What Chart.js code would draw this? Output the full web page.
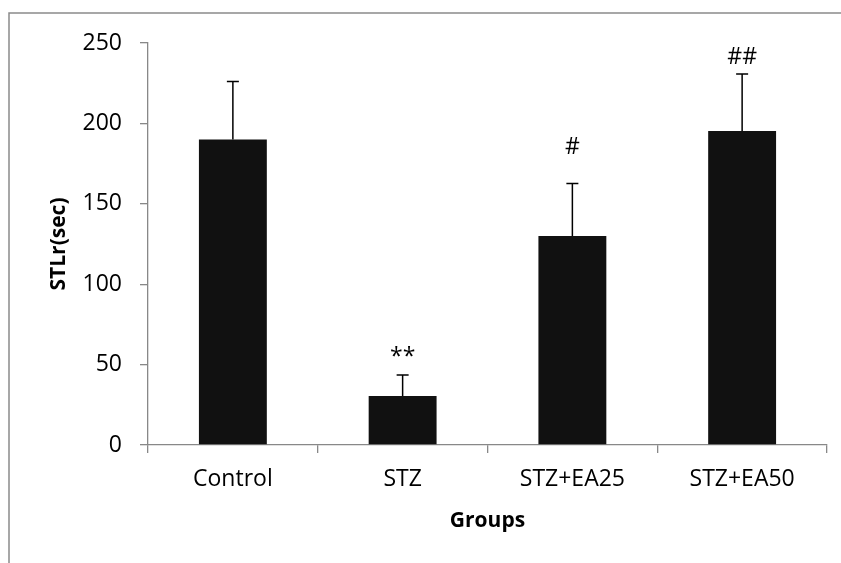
<!DOCTYPE html>
<html>
<head>
<meta charset="utf-8">
<script src="https://cdn.jsdelivr.net/npm/chart.js@4/dist/chart.umd.min.js"></script>
<style>
  html, body { margin: 0; padding: 0; background: #fff; }
  #wrap { width: 841px; height: 563px; position: relative; }
</style>
</head>
<body>
<div id="wrap"><canvas id="chart" width="841" height="563"></canvas></div>
<script>
// ── Data ──
const groups     = ["Control", "STZ", "STZ+EA25", "STZ+EA50"];
const means      = [190, 30.5, 130, 195.3];
const errors     = [36, 13, 32.7, 35.4];
const marks      = ["", "**", "#", "##"];
const markValues = [null, 54.5, 185, 241];
const yTicks     = [0, 50, 100, 150, 200, 250];

const FONT = "'Open Sans', sans-serif";
const AXIS_GREY = "#888888";

// ── Error bars (upper only) + significance marks ──
const errorBarPlugin = {
  id: "errorBars",
  afterDatasetsDraw(chart) {
    const { ctx, scales: { y } } = chart;
    const meta = chart.getDatasetMeta(0);
    ctx.save();
    ctx.strokeStyle = "#000";
    ctx.lineWidth = 1.5;
    meta.data.forEach((bar, i) => {
      const yTop = y.getPixelForValue(means[i] + errors[i]);
      ctx.beginPath();
      ctx.moveTo(bar.x, bar.y);
      ctx.lineTo(bar.x, yTop);
      ctx.moveTo(bar.x - 6, yTop);
      ctx.lineTo(bar.x + 6, yTop);
      ctx.stroke();
      if (marks[i]) {
        ctx.fillStyle = "#000";
        ctx.font = "23px " + FONT;
        ctx.textAlign = "center";
        ctx.textBaseline = "middle";
        ctx.fillText(marks[i], bar.x, y.getPixelForValue(markValues[i]));
      }
    });
    ctx.restore();
  }
};

// ── Outer frame (left + top edges visible in the figure) ──
const framePlugin = {
  id: "frame",
  beforeDraw(chart) {
    const { ctx } = chart;
    ctx.save();
    ctx.fillStyle = "#fff";
    ctx.fillRect(0, 0, chart.width, chart.height);
    ctx.strokeStyle = "#8a8a8a";
    ctx.lineWidth = 1.5;
    ctx.beginPath();
    ctx.moveTo(9, chart.height);
    ctx.lineTo(9, 13);
    ctx.lineTo(chart.width, 13);
    ctx.stroke();
    ctx.restore();
  }
};

new Chart(document.getElementById("chart"), {
  type: "bar",
  data: {
    labels: groups,
    datasets: [{
      data: means,
      backgroundColor: "#111111",
      borderWidth: 0,
      barPercentage: 0.4,
      categoryPercentage: 1.0,
    }]
  },
  options: {
    responsive: false,
    animation: false,
    layout: { padding: { left: 0, right: 14, top: 43, bottom: 0 } },
    plugins: { legend: { display: false }, tooltip: { enabled: false } },
    scales: {
      x: {
        grid: { drawOnChartArea: false, drawTicks: true, tickLength: 8, color: AXIS_GREY, lineWidth: 1.3 },
        border: { color: AXIS_GREY, width: 1.3 },
        ticks: { color: "#000", font: { family: FONT, size: 23 }, padding: 13, maxRotation: 0 },
        title: { display: true, text: "Groups", color: "#000", font: { family: FONT, size: 21, weight: "bold" }, padding: { top: 0, bottom: 29 } },
        afterFit(scale) { scale.height = 563 - 445; }
      },
      y: {
        min: 0,
        max: 250,
        afterBuildTicks(scale) { scale.ticks = yTicks.map(v => ({ value: v })); },
        grid: { drawOnChartArea: false, drawTicks: true, tickLength: 8, color: AXIS_GREY, lineWidth: 1.3 },
        border: { color: AXIS_GREY, width: 1.3 },
        ticks: { color: "#000", font: { family: FONT, size: 23 }, padding: 18 },
        title: { display: true, text: "STLr(sec)", color: "#000", font: { family: FONT, size: 21, weight: "bold" }, padding: { top: 46, bottom: 0 } },
        afterFit(scale) { scale.width = 148; }
      }
    }
  },
  plugins: [framePlugin, errorBarPlugin]
});
</script>
</body>
</html>
